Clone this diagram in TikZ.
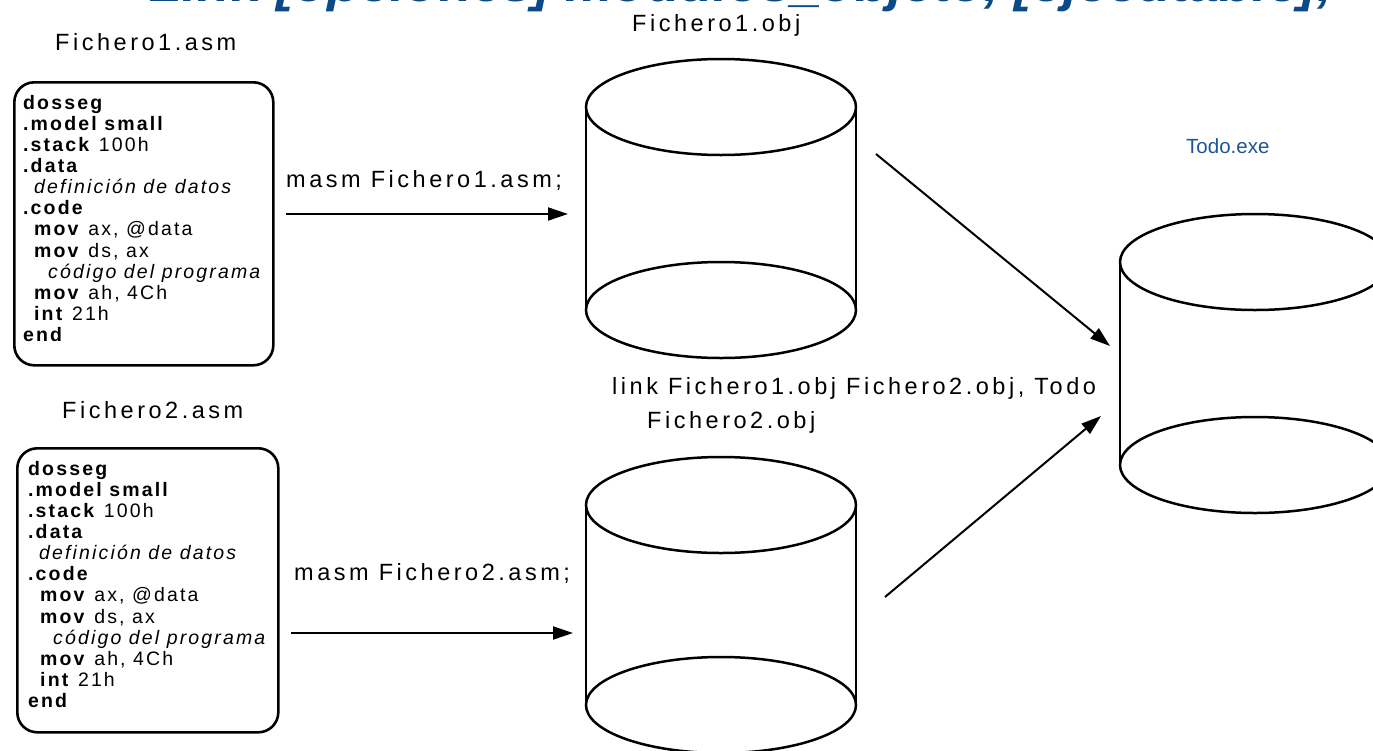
\documentclass[tikz,border=0pt]{standalone}
\usepackage{fontspec}
\setmainfont{Liberation Sans}
\newfontfamily\lblfont[LetterSpace=15]{Liberation Sans}
\newfontfamily\codefont[LetterSpace=11]{Liberation Sans}
\usetikzlibrary{arrows.meta}
\definecolor{titleblue}{HTML}{0B4A86}
\definecolor{exeblue}{HTML}{1F5596}
\begin{document}
\begin{tikzpicture}[x=1pt,y=-1pt,
  codebox/.style={draw, line width=2.6pt, rounded corners=20pt, inner sep=0pt},
  code/.style={anchor=north west, inner sep=0pt, align=left, font=\codefont\fontsize{19.5}{21.1}\selectfont},
  lbl/.style={anchor=base west, inner sep=0pt, font=\lblfont\fontsize{23.5}{27}\selectfont},
  cyl/.style={line width=2.5pt},
  arr/.style={line width=2pt, -{Triangle[length=20pt,width=13pt]}}]
\useasboundingbox (0,0) rectangle (1373,750);
\clip (0,0) rectangle (1373,750);

% cut-off title
\node[anchor=base, inner sep=0pt, text=titleblue, font=\fontsize{50}{54}\selectfont\bfseries\itshape] (title) at (742,1)
  {\scalebox{1.085}[1]{Link [opciones] módulos\_objeto, [ejecutable];}};

% source boxes
\node[lbl] (l1) at (55,50) {Fichero1.asm};
\node[codebox, minimum width=259pt, minimum height=283pt, anchor=north west] (asm1) at (13,81) {};
\node[code] (code1) at (23,95) {\textbf{dosseg}\\
\textbf{.model small}\\
\textbf{.stack} 100h\\
\textbf{.data}\\
\hspace*{11pt}\textit{definición de datos}\\
\textbf{.code}\\
\hspace*{11pt}\textbf{mov} ax, @data\\
\hspace*{11pt}\textbf{mov} ds, ax\\
\hspace*{25pt}\textit{código del programa}\\
\hspace*{11pt}\textbf{mov} ah, 4Ch\\
\hspace*{11pt}\textbf{int} 21h\\
\textbf{end}};

\node[lbl] (l2) at (62,418) {Fichero2.asm};
\node[codebox, minimum width=261pt, minimum height=284pt, anchor=north west] (asm2) at (16,447) {};
\node[code] (code2) at (28,461) {\textbf{dosseg}\\
\textbf{.model small}\\
\textbf{.stack} 100h\\
\textbf{.data}\\
\hspace*{11pt}\textit{definición de datos}\\
\textbf{.code}\\
\hspace*{12pt}\textbf{mov} ax, @data\\
\hspace*{12pt}\textbf{mov} ds, ax\\
\hspace*{25pt}\textit{código del programa}\\
\hspace*{12pt}\textbf{mov} ah, 4Ch\\
\hspace*{12pt}\textbf{int} 21h\\
\textbf{end}};

% object cylinders
\node[lbl] (o1lbl) at (632,31) {Fichero1.obj};
\node[inner sep=0pt, minimum width=270pt, minimum height=299pt] (obj1) at (721,208.5) {};
\draw[cyl] (586,107) -- (586,310) (856,107) -- (856,310);
\draw[cyl] (721,107) ellipse [x radius=135pt, y radius=48pt];
\draw[cyl] (721,310) ellipse [x radius=135pt, y radius=48pt];

\node[lbl] (o2lbl) at (647,428) {Fichero2.obj};
\node[inner sep=0pt, minimum width=270pt, minimum height=296pt] (obj2) at (721,605) {};
\draw[cyl] (586,505) -- (586,705) (856,505) -- (856,705);
\draw[cyl] (721,505) ellipse [x radius=135pt, y radius=48pt];
\draw[cyl] (721,705) ellipse [x radius=135pt, y radius=48pt];

% executable cylinder
\node[anchor=base west, inner sep=0pt, text=exeblue, font=\fontsize{20.5}{24}\selectfont] (exelbl) at (1186,153) {Todo.exe};
\node[inner sep=0pt, minimum width=270pt, minimum height=299pt] (exe) at (1255,363.5) {};
\draw[cyl] (1120,262) -- (1120,465) (1390,262) -- (1390,465);
\draw[cyl] (1255,262) ellipse [x radius=135pt, y radius=48pt];
\draw[cyl] (1255,465) ellipse [x radius=135pt, y radius=48pt];

% commands
\node[lbl] (m1) at (286,187) {masm Fichero1.asm;};
\node[lbl] (m2) at (294,580) {masm Fichero2.asm;};
\node[lbl] (lk) at (612,394) {link Fichero1.obj Fichero2.obj, Todo};

% arrows
\coordinate (a1s) at (286,214);
\coordinate (a1e) at (568,214);
\coordinate (a2s) at (291,633);
\coordinate (a2e) at (573,633);
\coordinate (a3s) at (876,154);
\coordinate (a3e) at (1110,346);
\coordinate (a4s) at (885,597);
\coordinate (a4e) at (1101,416);
\draw[arr] (a1s) -- (a1e);
\draw[arr] (a2s) -- (a2e);
\draw[arr] (a3s) -- (a3e);
\draw[arr] (a4s) -- (a4e);
\end{tikzpicture}
\end{document}
